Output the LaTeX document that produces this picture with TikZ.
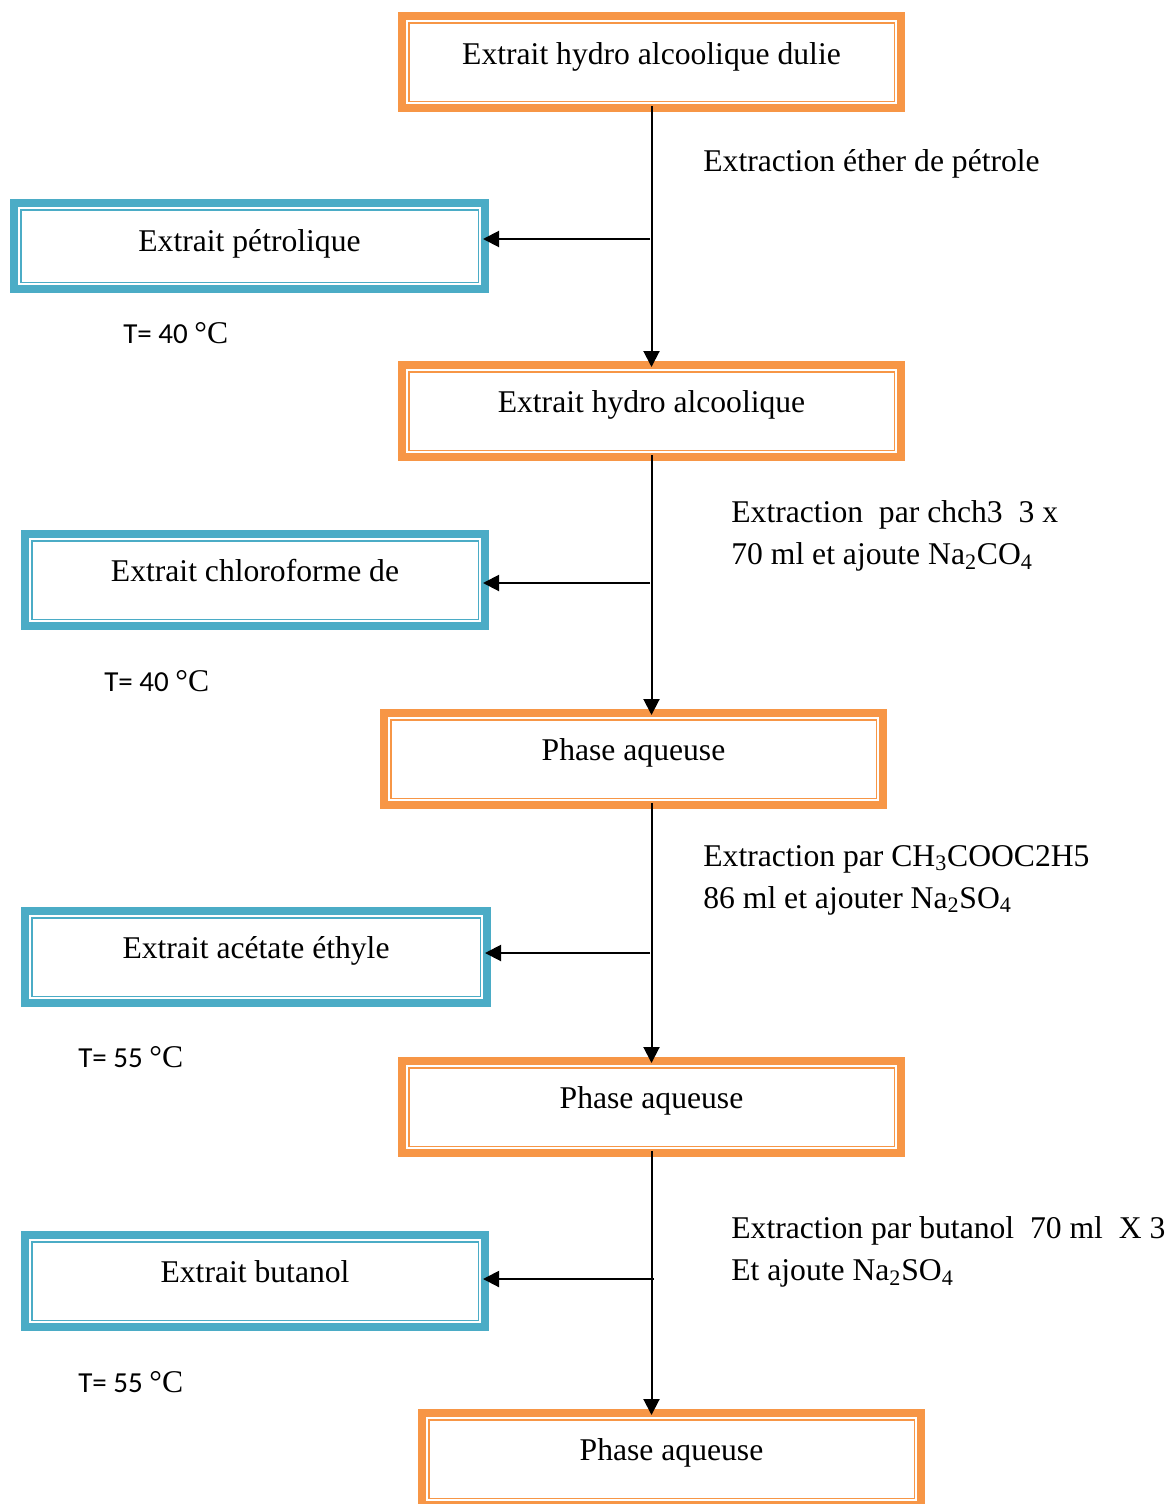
\documentclass[tikz,border=0pt]{standalone}
\usepackage{fontspec}
\setmainfont{Liberation Serif}
\newfontfamily\calibri{Carlito}
\usepackage{tikz}
\usetikzlibrary{calc}
\usetikzlibrary{arrows.meta}
\definecolor{orangebox}{HTML}{F79646}
\definecolor{bluebox}{HTML}{4BACC6}
\tikzset{framed/.style={rectangle,
minimum height=1.64cm,
text height=12pt,
text depth=10pt,
outer sep=0.06cm,
draw=#1,
line width=0.03cm,
double=white,
double distance=0.04cm,
fill=white,
preaction={draw=#1, line width=0.36cm},
font=\fontsize{18}{24}\selectfont}}
\tikzstyle{phase} = [framed=orangebox, minimum width=9.78cm]
\tikzstyle{extract} = [framed=bluebox, minimum width=9cm]
\tikzstyle{note} = [anchor=west, inner sep=0pt, align=left, font=\fontsize{18}{24}\selectfont]
\tikzstyle{temp} = [anchor=west, inner sep=0pt, font=\calibri\fontsize{16.5}{20}\selectfont]
\tikzstyle{arrow} = [line width=0.04cm,-{Triangle[length=0.32cm, width=0.32cm]}]

\begin{document}
\begin{tikzpicture}
    \useasboundingbox (0,0) rectangle (23.46,-30.08);
    \node (hydro) [phase] at (13.03,-1.25) {Extrait hydro alcoolique dulie};
    \node (petrol) [extract, minimum width=9.22cm, minimum height=1.52cm, text depth=6pt] at (4.99,-4.92) {Extrait pétrolique};
    \node (hydro2) [phase] at (13.03,-8.22) {Extrait hydro alcoolique};
    \node (chloro) [extract] at (5.10,-11.60) {Extrait chloroforme de};
    \node (aq1) [phase] at (12.67,-15.18) {Phase aqueuse};
    \node (acetate) [extract, minimum width=9.04cm] at (5.12,-19.14) {Extrait acétate éthyle};
    \node (aq2) [phase] at (13.03,-22.14) {Phase aqueuse};
    \node (butanol) [extract] at (5.10,-25.62) {Extrait butanol};
    \node (aq3) [phase] at (13.43,-29.18) {Phase aqueuse};

    \node (ether) [note] at (14.06,-3.28) {Extraction éther de pétrole};
    \node (chch) [note] at (14.62,-10.72) {Extraction\ \ par chch3\ \ 3 x\\70 ml et ajoute Na\textsubscript{2}CO\textsubscript{4}};
    \node (acet) [note] at (14.06,-17.60) {Extraction par CH\textsubscript{3}COOC2H5\\86 ml et ajouter Na\textsubscript{2}SO\textsubscript{4}};
    \node (buta) [note] at (14.62,-25.04) {Extraction par butanol\ \ 70 ml\ \ X 3\\Et ajoute Na\textsubscript{2}SO\textsubscript{4}};

    \node (t1) [temp] at (2.46,-6.66) {T= 40 {\rmfamily\fontsize{18}{20}\selectfont °C}};
    \node (t2) [temp] at (2.08,-13.62) {T= 40 {\rmfamily\fontsize{18}{20}\selectfont °C}};
    \node (t3) [temp] at (1.56,-21.14) {T= 55 {\rmfamily\fontsize{18}{20}\selectfont °C}};
    \node (t4) [temp] at (1.56,-27.64) {T= 55 {\rmfamily\fontsize{18}{20}\selectfont °C}};

    \coordinate (j1) at (13.0,-4.78);
    \coordinate (j2) at (13.0,-11.66);
    \coordinate (j3) at (13.0,-19.06);
    \coordinate (j4) at (13.08,-25.58);

    \draw [arrow] (hydro.south) -- (hydro.south |- hydro2.north);
    \draw [arrow] (hydro2.south) -- (hydro2.south |- aq1.north);
    \draw [arrow] (aq1.south -| aq2.north) -- (aq2.north);
    \draw [arrow] (aq2.south) -- (aq2.south |- aq3.north);
    \draw [arrow] (j1) -- (petrol.east |- j1);
    \draw [arrow] (j2) -- (chloro.east |- j2);
    \draw [arrow] (j3) -- (acetate.east |- j3);
    \draw [arrow] (j4) -- (butanol.east |- j4);
\end{tikzpicture}
\end{document}
